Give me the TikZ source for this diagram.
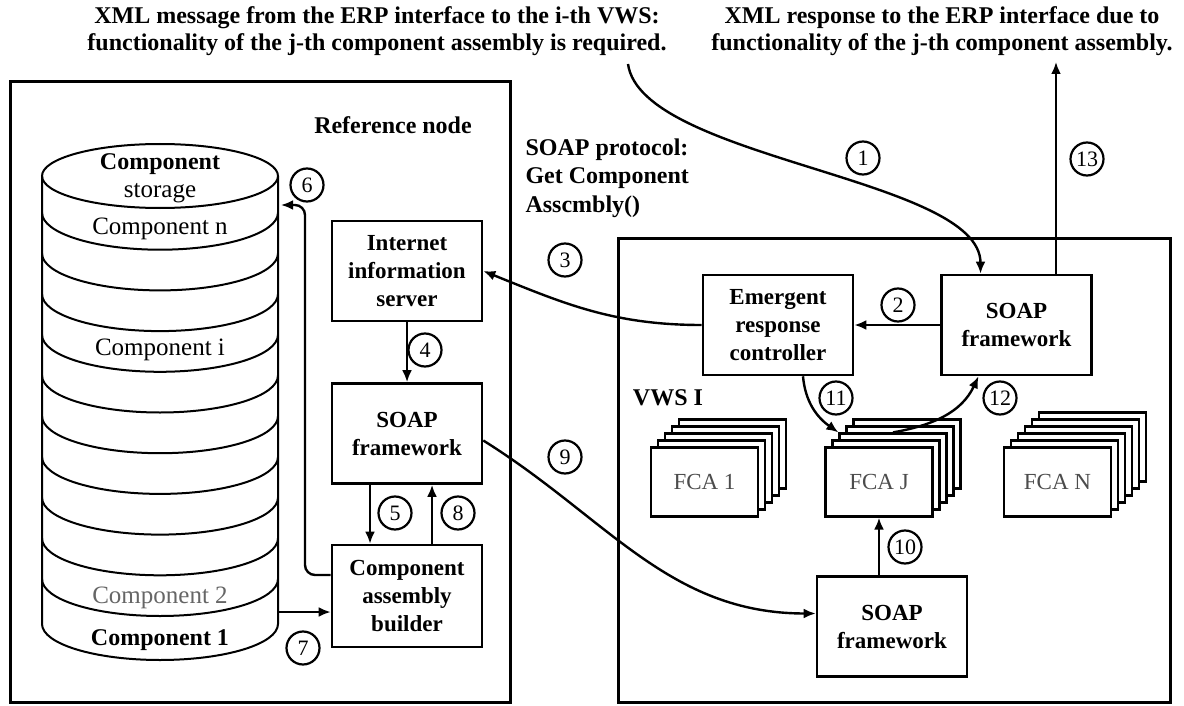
\documentclass[tikz,border=0pt]{standalone}
\usepackage{fontspec}
\setmainfont{Liberation Serif}
\usetikzlibrary{arrows.meta}

\tikzset{
  box/.style={draw, line width=2.6pt, fill=white, minimum width=150pt, minimum height=100pt,
    align=center, font=\bfseries\fontsize{23}{28}\selectfont},
  fcabox/.style={draw, line width=2.2pt, fill=white, minimum width=107pt, minimum height=69pt,
    text=black!70, font=\fontsize{23}{26}\selectfont},
  num/.style={circle, draw, line width=2.2pt, minimum size=33pt, inner sep=0pt,
    font=\fontsize{22}{22}\selectfont},
  arr/.style={-{Latex[length=12pt,width=10pt]}, line width=2.4pt},
  caption/.style={align=center, font=\bfseries\fontsize{24}{27}\selectfont},
  tag/.style={font=\bfseries\fontsize{24}{28.5}\selectfont},
  comp/.style={font=\fontsize{25}{28}\selectfont},
}

\begin{document}
\begin{tikzpicture}[x=1pt, y=-1pt]
\useasboundingbox (0,0) rectangle (1184,706);

\node[caption] (msgtxt) at (377,31) {XML message from the ERP interface to the i-th VWS:\\functionality of the j-th component assembly is required.};
\node[caption] (resptxt) at (942,31) {XML response to the ERP interface due to\\functionality of the j-th component assembly.};
\coordinate (msg) at (628,64);
\coordinate (resp) at (1056,62);

% reference node and VWS
\draw[line width=3pt] (10,82) rectangle (510,702);
\draw[line width=3pt] (618,238) rectangle (1170,702);
\node[tag] (refnode) at (393,125) {Reference node};
\node[tag, align=left, anchor=west] (proto) at (522,178) {SOAP protocol:\\Get Component\\Asscmbly()};
\node[tag] (vws) at (668,398) {VWS I};

% component storage
\draw[line width=2pt, fill=white] (42,176) -- (42,624) arc[start angle=180, end angle=360, x radius=118pt, y radius=36pt] -- (278,176);
\draw[line width=2pt] (160,176) ellipse [x radius=118pt, y radius=32pt];
\foreach \k in {1,...,10}
  \draw[line width=2pt] (42,{172+40.7*\k}) arc[start angle=180, end angle=360, x radius=118pt, y radius=37pt];
\node[comp, font=\bfseries\fontsize{24}{28}\selectfont] (stortop) at (160,164) {Component};
\node[comp] (stor) at (160,193) {storage};
\node[comp] (compn) at (160,229) {Component n};
\node[comp] (compi) at (160,350) {Component i};
\node[comp, text=black!60] (comp2) at (160,598) {Component 2};
\node[comp, font=\bfseries\fontsize{24}{28}\selectfont] (comp1) at (160,640) {Component 1};
\coordinate (cyl6) at (281,205);
\coordinate (up6) at (305,205);
\coordinate (cyl7) at (279,612);

\node[box] (iis) at (407,271) {Internet\\information\\server};
\node[box] (soapL) at (407,433.5) {SOAP\\framework};
\node[box, minimum height=102pt] (cab) at (407,596) {Component\\assembly\\builder};

\node[box] (erc) at (778,325) {Emergent\\response\\controller};
\node[box] (soapR) at (1016.5,325) {SOAP\\framework};
\node[box] (soapB) at (892,626.5) {SOAP\\framework};

\foreach \i in {4,3,2,1}
  \node[fcabox] (fcaa\i) at ({704.5+7*\i},{482-7*\i}) {};
\node[fcabox] (fcaa) at (704.5,482) {FCA 1};
\foreach \i in {4,3,2,1}
  \node[fcabox] (fcaj\i) at ({879+7*\i},{482-7*\i}) {};
\node[fcabox] (fcaj) at (879,482) {FCA J};
\foreach \i in {5,4,3,2,1}
  \node[fcabox] (fcan\i) at ({1057.5+7*\i},{482-7*\i}) {};
\node[fcabox] (fcan) at (1057.5,482) {FCA N};

\draw[arr] (msg) to[out=-82, in=90, looseness=0.6] ([xshift=-36pt]soapR.north);
\draw[arr] (soapR) -- (erc);
\draw[arr] (erc.west) to[out=180, in=-22] (iis.east);
\draw[arr] (iis) -- (soapL);
\draw[arr] ([xshift=-37pt]soapL.south) -- ([xshift=-37pt]cab.north);
\draw[arr, rounded corners=10pt] ([yshift=21pt]cab.west) -| (up6) -- (cyl6);
\draw[arr] (cyl7) -- (cyl7 -| cab.west);
\draw[arr] ([xshift=25pt]cab.north) -- ([xshift=25pt]soapL.south);
\draw[arr] ([yshift=-7pt]soapL.east) to[out=-32, in=180] ([yshift=13pt]soapB.west);
\draw[arr] (soapB.north -| fcaj.south) -- (fcaj.south);
\draw[arr] ([xshift=25pt]erc.south) to[out=-85, in=145] (fcaj2.north west);
\draw[arr] (fcaj2.north) to[out=10, in=-115] ([xshift=-38pt]soapR.south);
\draw[arr] (soapR.north -| resp) -- (resp);

\node[num] (n1) at (863,158) {1};
\node[num] (n2) at (898,305) {2};
\node[num] (n3) at (565,260) {3};
\node[num] (n4) at (425,350) {4};
\node[num] (n5) at (395,513) {5};
\node[num] (n6) at (307,185) {6};
\node[num] (n7) at (303,648) {7};
\node[num] (n8) at (458,513) {8};
\node[num] (n9) at (565,457) {9};
\node[num] (n10) at (905,547) {10};
\node[num] (n11) at (836,398) {11};
\node[num] (n12) at (1000,398) {12};
\node[num] (n13) at (1087,159) {13};
\end{tikzpicture}
\end{document}
